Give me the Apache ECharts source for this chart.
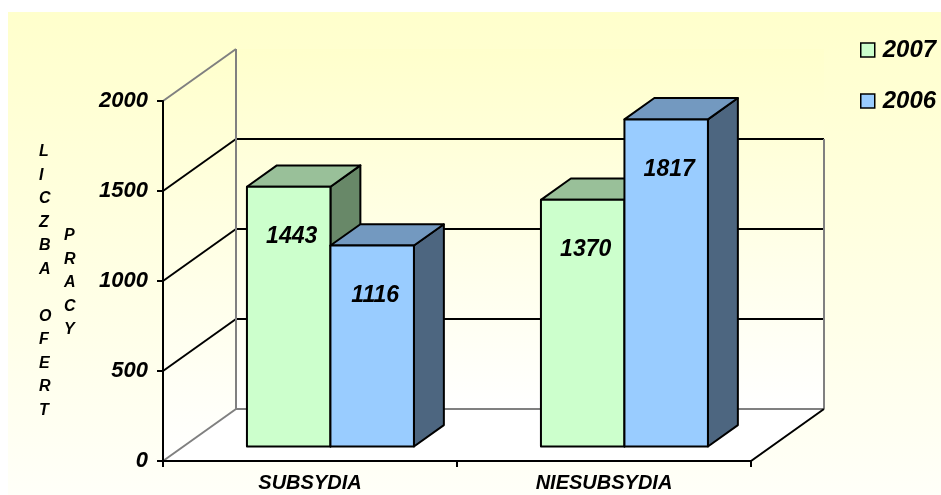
<!DOCTYPE html>
<html>
<head>
<meta charset="utf-8">
<script src="https://cdn.jsdelivr.net/npm/echarts@6/dist/echarts.min.js"></script>
<style>
  html, body { margin: 0; padding: 0; background: #fff; }
  #chart { width: 941px; height: 495px; }
</style>
</head>
<body>
<div id="chart"></div>
<script>
// chart values
const categories = ['SUBSYDIA', 'NIESUBSYDIA'];
const years = ['2007', '2006'];
const values2007 = [1443, 1370];
const values2006 = [1116, 1817];
const yTicks = [0, 500, 1000, 1500, 2000];

// 3d look
const DX = 73, DY = -52;          // full depth of the box
const FRONT = 0.28, DEPTH = 0.41; // where bars sit in the depth
const BAR_FRAC = 0.284;           // bar width / category width
const FONT = '"Liberation Sans", Arial, sans-serif';

const colors = {
  '2007': { front: '#CCFFCC', top: '#99C099', side: '#688868' },
  '2006': { front: '#99CCFF', top: '#7399C0', side: '#4D6680' }
};

function wallsItem(params, api) {
  const cs = params.coordSys;
  const x0 = cs.x, x1 = cs.x + cs.width;
  const y0 = api.coord([0, 0])[1];
  const yTop = api.coord([0, yTicks[yTicks.length - 1]])[1];
  const kids = [];
  // back wall + side wall fill
  const wallFill = new echarts.graphic.LinearGradient(0, 0, 0, 1, [
    { offset: 0, color: '#FFFFCC' }, { offset: 1, color: '#FFFFFF' }
  ]);
  kids.push({ type: 'polygon', shape: { points: [[x0 + DX, yTop + DY], [x1 + DX, yTop + DY], [x1 + DX, y0 + DY], [x0 + DX, y0 + DY]] },
    style: { fill: wallFill } });
  kids.push({ type: 'polygon', shape: { points: [[x0, yTop], [x0 + DX, yTop + DY], [x0 + DX, y0 + DY], [x0, y0]] },
    style: { fill: wallFill } });
  // floor
  kids.push({ type: 'polygon', shape: { points: [[x0, y0], [x1, y0], [x1 + DX, y0 + DY], [x0 + DX, y0 + DY]] },
    style: { fill: '#FFFFFF' } });
  // gridlines
  yTicks.forEach(function (v, i) {
    const y = api.coord([0, v])[1];
    const edge = (i === 0 || i === yTicks.length - 1);
    const col = edge ? '#808080' : '#000000';
    kids.push({ type: 'line', shape: { x1: x0, y1: y, x2: x0 + DX, y2: y + DY }, style: { stroke: col, lineWidth: 2 } });
    if (i < yTicks.length - 1) {
      kids.push({ type: 'line', shape: { x1: x0 + DX, y1: y + DY, x2: x1 + DX, y2: y + DY }, style: { stroke: col, lineWidth: 2 } });
    }
  });
  // wall edges
  kids.push({ type: 'line', shape: { x1: x0 + DX, y1: yTop + DY, x2: x0 + DX, y2: y0 + DY }, style: { stroke: '#808080', lineWidth: 2 } });
  kids.push({ type: 'line', shape: { x1: x1 + DX, y1: api.coord([0, 1500])[1] + DY, x2: x1 + DX, y2: y0 + DY }, style: { stroke: '#808080', lineWidth: 2 } });
  // floor front + right edge
  kids.push({ type: 'polyline', shape: { points: [[x0, y0], [x1, y0], [x1 + DX, y0 + DY]] }, style: { stroke: '#000', lineWidth: 2, fill: null } });
  return { type: 'group', children: kids };
}

function barRenderer(year, slot) {
  return function (params, api) {
    const cat = api.value(0), val = api.value(1);
    const base = api.coord([cat, 0]);
    const top = api.coord([cat, val]);
    const bw = api.size([1, 0])[0] * BAR_FRAC;
    const ox = FRONT * DX, oy = FRONT * DY;
    const bx = DEPTH * DX, by = DEPTH * DY;
    const x0 = base[0] - bw + slot * bw + ox, x1 = x0 + bw;
    const yB = base[1] + oy, yT = top[1] + oy;
    const c = colors[year];
    const line = { stroke: '#000', lineWidth: 2, lineJoin: 'round' };
    return {
      type: 'group',
      children: [
        { type: 'polygon', shape: { points: [[x1, yT], [x1 + bx, yT + by], [x1 + bx, yB + by], [x1, yB]] },
          style: Object.assign({ fill: c.side }, line) },
        { type: 'polygon', shape: { points: [[x0, yT], [x1, yT], [x1 + bx, yT + by], [x0 + bx, yT + by]] },
          style: Object.assign({ fill: c.top }, line) },
        { type: 'rect', shape: { x: x0, y: yT, width: bw, height: yB - yT },
          style: Object.assign({ fill: c.front }, line) },
        { type: 'text', style: { x: (x0 + x1) / 2 + 3, y: yT + 50, text: String(val),
          font: 'italic bold 23px ' + FONT, fill: '#000', align: 'center', verticalAlign: 'middle' } }
      ]
    };
  };
}

const chart = echarts.init(document.getElementById('chart'));
chart.setOption({
  backgroundColor: '#FFFFFF',
  animation: false,
  graphic: [
    { type: 'rect', z: -10, silent: true, shape: { x: 8, y: 12, width: 933, height: 483 },
      style: { fill: new echarts.graphic.LinearGradient(0, 0, 0, 1, [
        { offset: 0, color: '#FFFFCC' }, { offset: 1, color: '#FFFFF8' }]) } },
    { type: 'text', left: 39, top: 140, style: { text: 'L\nI\nC\nZ\nB\nA\n\nO\nF\nE\nR\nT', fill: '#000',
      font: 'italic bold 16px ' + FONT, lineHeight: 23.5, align: 'center' } },
    { type: 'text', left: 64, top: 224, style: { text: 'P\nR\nA\nC\nY', fill: '#000',
      font: 'italic bold 16px ' + FONT, lineHeight: 23.5, align: 'center' } }
  ],
  legend: {
    data: years.map(function (y) {
      return { name: y, itemStyle: { color: colors[y].front, borderColor: '#000', borderWidth: 1.5 } };
    }),
    orient: 'vertical', left: 860, top: 38, padding: 0,
    icon: 'rect', itemWidth: 14, itemHeight: 14, itemGap: 27,
    textStyle: { fontSize: 24, fontWeight: 'bold', fontStyle: 'italic', fontFamily: FONT, color: '#000', padding: [0, 0, 0, 3] }
  },
  grid: { left: 163, right: 190, top: 101, bottom: 34 },
  xAxis: {
    type: 'category', data: categories, z: 5,
    axisLine: { lineStyle: { color: '#000', width: 2 } },
    axisTick: { show: true, length: 6, lineStyle: { color: '#000', width: 2 } },
    axisLabel: { margin: 12, fontSize: 20, fontWeight: 'bold', fontStyle: 'italic', fontFamily: FONT, color: '#000' },
    splitLine: { show: false }
  },
  yAxis: {
    type: 'value', min: 0, max: 2000, interval: 500, z: 5,
    axisLine: { show: true, lineStyle: { color: '#000', width: 2 } },
    axisTick: { show: true, length: 6, lineStyle: { color: '#000', width: 2 } },
    axisLabel: { margin: 15, fontSize: 22, fontWeight: 'bold', fontStyle: 'italic', fontFamily: FONT, color: '#000',
      formatter: function (v) { return String(v); } },
    splitLine: { show: false }
  },
  series: [
    { type: 'custom', z: 1, silent: true, renderItem: wallsItem, data: [[0, 0]], encode: { x: 0, y: 1 } },
    { type: 'custom', name: '2007', z: 2, itemStyle: { color: colors['2007'].front },
      renderItem: barRenderer('2007', 0), data: values2007.map(function (v, i) { return [i, v]; }), encode: { x: 0, y: 1 } },
    { type: 'custom', name: '2006', z: 3, itemStyle: { color: colors['2006'].front },
      renderItem: barRenderer('2006', 1), data: values2006.map(function (v, i) { return [i, v]; }), encode: { x: 0, y: 1 } }
  ]
});
</script>
</body>
</html>
